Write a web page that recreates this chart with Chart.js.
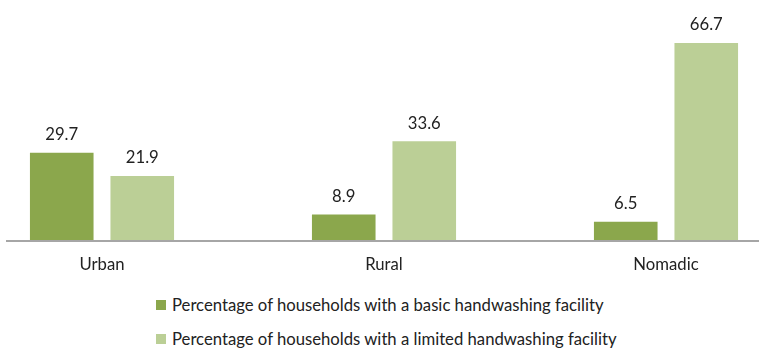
<!DOCTYPE html>
<html>
<head>
<meta charset="utf-8">
<script src="https://cdn.jsdelivr.net/npm/chart.js@4/dist/chart.umd.min.js"></script>
<style>
  html, body { margin: 0; padding: 0; background: #fff; overflow: hidden; width: 759px; height: 349px; }
  #wrap { position: absolute; left: -39px; top: 0; width: 846px; height: 290px; }
  .leg { position: absolute; left: 156px; font-family: Lato, "Liberation Sans", sans-serif; font-size: 16.7px; color: #222; white-space: nowrap; }
  .leg i { position: absolute; left: 0; width: 10px; height: 10px; }
  .leg span { position: absolute; left: 16px; line-height: 20px; }
</style>
</head>
<body>
<div id="wrap"><canvas id="c" width="846" height="290"></canvas></div>
<div class="leg" style="top:300px"><i id="b1"></i><span id="l1" style="top:-5px"></span></div>
<div class="leg" style="top:334px"><i id="b2"></i><span id="l2" style="top:-5px"></span></div>
<script>
const categories = ["Urban", "Rural", "Nomadic"];
const basicValues = [29.7, 8.9, 6.5];
const limitedValues = [21.9, 33.6, 66.7];
const seriesNames = [
  "Percentage of households with a basic handwashing facility",
  "Percentage of households with a limited handwashing facility"
];
const colors = ["#8ba74c", "#bbcf96"];

document.getElementById("b1").style.background = colors[0];
document.getElementById("b2").style.background = colors[1];
document.getElementById("l1").textContent = seriesNames[0];
document.getElementById("l2").textContent = seriesNames[1];

const FONT = "Lato, 'Liberation Sans', sans-serif";

const valueLabels = {
  id: "valueLabels",
  afterDatasetsDraw(chart) {
    const ctx = chart.ctx;
    ctx.save();
    ctx.font = "16.7px " + FONT;
    ctx.fillStyle = "#222";
    ctx.textAlign = "center";
    ctx.textBaseline = "middle";
    chart.data.datasets.forEach((ds, i) => {
      chart.getDatasetMeta(i).data.forEach((bar, j) => {
        ctx.fillText(ds.data[j].toFixed(1), bar.x, bar.y - 18);
      });
    });
    ctx.restore();
  }
};

const axisLine = {
  id: "axisLine",
  afterDatasetsDraw(chart) {
    const ctx = chart.ctx;
    const y = chart.chartArea.bottom;
    ctx.save();
    ctx.strokeStyle = "#a6a6a6";
    ctx.lineWidth = 2;
    ctx.beginPath();
    ctx.moveTo(45, y);
    ctx.lineTo(chart.width, y);
    ctx.stroke();
    ctx.restore();
  }
};

new Chart(document.getElementById("c"), {
  type: "bar",
  data: {
    labels: categories,
    datasets: [
      { label: seriesNames[0], data: basicValues, backgroundColor: colors[0] },
      { label: seriesNames[1], data: limitedValues, backgroundColor: colors[1] }
    ]
  },
  options: {
    responsive: false,
    animation: false,
    layout: { padding: { top: 3.4, left: 0, right: 0, bottom: 0 } },
    datasets: { bar: { categoryPercentage: 0.571, barPercentage: 0.79 } },
    plugins: { legend: { display: false }, tooltip: { enabled: false } },
    scales: {
      x: {
        grid: { display: false, drawTicks: false },
        border: { display: false },
        ticks: { color: "#222", font: { family: FONT, size: 16.7 }, padding: 14 },
        afterFit(scale) { scale.height = 49; }
      },
      y: { display: false, min: 0, max: 80 }
    }
  },
  plugins: [valueLabels, axisLine]
});
</script>
</body>
</html>
